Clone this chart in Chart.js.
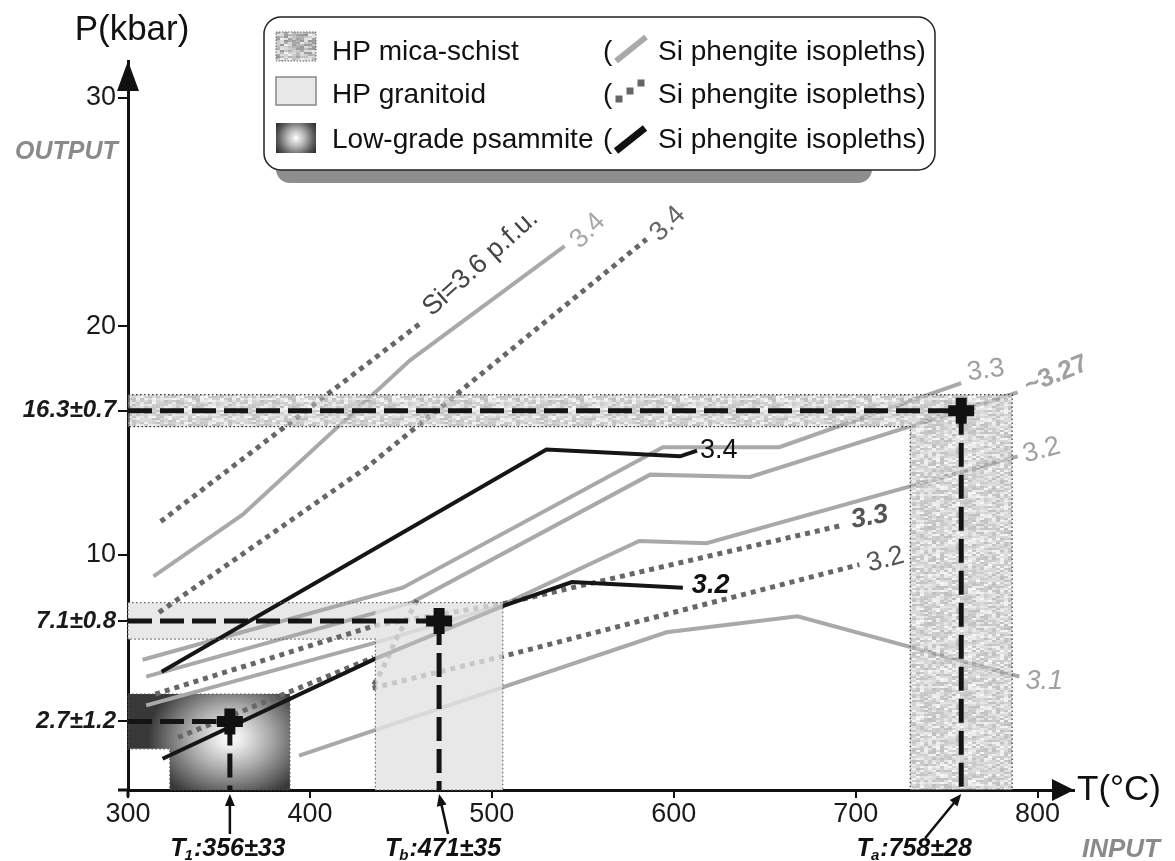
<!DOCTYPE html>
<html>
<head>
<meta charset="utf-8">
<script src="https://cdn.jsdelivr.net/npm/chart.js@4.4.0/dist/chart.umd.min.js"></script>
<style>
  html, body { margin: 0; padding: 0; background: #fff; }
  canvas { display: block; }
</style>
</head>
<body>
<canvas id="pt" width="1175" height="861"></canvas>
<script>
// axis ticks
const xTicks = [300, 400, 500, 600, 700, 800];
const yTicks = [2.7, 7.1, 10, 16.3, 20, 30];
const yTickLabels = ['2.7±1.2', '7.1±0.8', '10', '16.3±0.7', '20', '30'];

// P-T estimates of the three samples (psammite, granitoid, mica-schist)
const sampleKeys = ['1', 'b', 'a'];
const sampleT = [356, 471, 758];
const sampleTErr = [33, 35, 28];
const sampleP = [2.7, 7.1, 16.3];
const samplePErr = [1.2, 0.8, 0.7];

// Si phengite isopleths - HP mica-schist (grey solid)
const mica34T = [314, 363, 455, 540];
const mica34P = [9.05, 11.75, 18.5, 23.5];
const mica33T = [308, 451, 594, 658, 758];
const mica33P = [5.4, 8.55, 14.7, 14.7, 17.5];
const mica327T = [310, 456, 587, 642, 789];
const mica327P = [4.66, 7.9, 13.5, 13.4, 17.1];
const mica32T = [310, 436, 506, 581, 618, 789];
const mica32P = [3.4, 6.15, 7.8, 10.6, 10.5, 14.3];
const mica31T = [394, 596, 668, 790];
const mica31P = [1.2, 6.6, 7.3, 4.66];

// Si phengite isopleths - HP granitoid (dotted)
const gran36T = [318, 462];
const gran36P = [11.45, 20.2];
const gran34T = [317, 431, 585];
const gran34P = [7.47, 13.8, 23.8];
const gran33T = [315, 436, 506, 692];
const gran33P = [3.9, 6.9, 7.85, 11.27];
const gran32T = [459, 448, 440, 434, 506, 702];
const gran32P = [8.0, 6.4, 5.0, 4.15, 5.55, 9.56];
const gran32bT = [327.5, 435];
const gran32bP = [2.0, 5.5];

// Si phengite isopleths - low-grade psammite (black)
const psam34T = [318.5, 530, 603.5, 612.8];
const psam34P = [4.87, 14.6, 14.3, 14.55];
const psam32T = [319, 436, 506, 544, 605];
const psam32P = [1.07, 5.45, 7.75, 8.8, 8.55];

const legendNames = ['HP mica-schist', 'HP granitoid', 'Low-grade psammite'];
const legendIso = 'Si phengite isopleths)';

const X_MIN = 300, X_MAX = 820, Y_MIN = -0.3, Y_MAX = 31.6;
const FONT = '"Liberation Sans", Arial, Helvetica, sans-serif';

const isoStyles = {
  mica: { borderColor: '#a9a9a9', borderWidth: 4, borderDash: [], order: 5 },
  gran: { borderColor: '#676767', borderWidth: 5, borderDash: [5, 5], order: 4 },
  psam: { borderColor: '#161616', borderWidth: 4, borderDash: [], order: 3 },
};

function iso(T, P, kind, tag) {
  return Object.assign({
    role: 'iso',
    tag: tag,
    data: T.map((t, i) => ({ x: t, y: P[i] })),
    showLine: true,
    pointRadius: 0,
    fill: false,
    tension: 0,
    borderCapStyle: 'butt',
    borderJoinStyle: 'miter',
  }, isoStyles[kind]);
}

function fnt(size, weight, style) {
  return `${style || 'normal'} ${weight || 'normal'} ${size}px ${FONT}`;
}

const datasets = [
  iso(psam34T, psam34P, 'psam', { text: '3.4', color: '#111', font: fnt(27), dx: 3, dy: 0, rot: 0 }),
  iso(psam32T, psam32P, 'psam', { text: '3.2', color: '#111', font: fnt(27, 'bold', 'italic'), dx: 9, dy: -2, rot: 0 }),
  iso(gran36T, gran36P, 'gran', { text: 'Si=3.6 p.f.u.', color: '#444', font: fnt(27), dx: 4, dy: -10, rot: -42 }),
  iso(gran34T, gran34P, 'gran', { text: '3.4', color: '#666', font: fnt(27), dx: 8, dy: -2, rot: -45 }),
  iso(gran33T, gran33P, 'gran', { text: '3.3', color: '#555', font: fnt(27, 'bold', 'italic'), dx: 10, dy: -5, rot: -10 }),
  iso(gran32T, gran32P, 'gran', { text: '3.2', color: '#555', font: fnt(27), dx: 8, dy: 0, rot: -15 }),
  iso(gran32bT, gran32bP, 'gran', null),
  iso(mica34T, mica34P, 'mica', { text: '3.4', color: '#a8a8a8', font: fnt(27), dx: 10, dy: -2, rot: -45 }),
  iso(mica33T, mica33P, 'mica', { text: '3.3', color: '#a0a0a0', font: fnt(27), dx: 6, dy: -10, rot: -8 }),
  iso(mica327T, mica327P, 'mica', { text: '~3.27', color: '#a0a0a0', font: fnt(26, 'bold'), dx: 8, dy: -5, rot: -22 }),
  iso(mica32T, mica32P, 'mica', { text: '3.2', color: '#a0a0a0', font: fnt(27), dx: 6, dy: -1, rot: -15 }),
  iso(mica31T, mica31P, 'mica', { text: '3.1', color: '#a0a0a0', font: fnt(27, 'normal', 'italic'), dx: 6, dy: 5, rot: 0 }),
];

// dashed guides from the axes to each estimate
sampleT.forEach((t, k) => {
  const guide = { role: 'guide', showLine: true, pointRadius: 0, fill: false, borderColor: '#141414', borderWidth: 5, borderDash: [24, 8], borderCapStyle: 'butt', order: 1 };
  datasets.push(Object.assign({}, guide, { data: [{ x: X_MIN, y: sampleP[k] }, { x: t, y: sampleP[k] }] }));
  datasets.push(Object.assign({}, guide, { data: [{ x: t, y: sampleP[k] }, { x: t, y: Y_MIN }] }));
});
datasets.push({
  role: 'cross',
  data: sampleT.map((t, k) => ({ x: t, y: sampleP[k] })),
  pointStyle: 'cross',
  pointRadius: 13,
  pointBorderWidth: 11,
  pointBorderColor: '#111',
  showLine: false,
  order: 0,
});

let micaPat = null;
function micaPattern(ctx) {
  if (micaPat) return micaPat;
  const c = document.createElement('canvas');
  c.width = 96; c.height = 96;
  const g = c.getContext('2d');
  for (let j = 0; j < 48; j++) {
    for (let i = 0; i < 24; i++) {
      const h = Math.abs(Math.sin(i * 12.9898 + j * 78.233) * 43758.5453) % 1;
      const v = Math.round(150 + h * 92);
      g.fillStyle = `rgb(${v},${v},${v})`;
      g.fillRect(i * 4, j * 2, 4, 2);
    }
  }
  micaPat = ctx.createPattern(c, 'repeat');
  return micaPat;
}

function box(chart, k) {
  const x = chart.scales.x, y = chart.scales.y;
  return {
    l: x.getPixelForValue(X_MIN),
    tl: x.getPixelForValue(sampleT[k] - sampleTErr[k]),
    r: x.getPixelForValue(sampleT[k] + sampleTErr[k]),
    top: y.getPixelForValue(sampleP[k] + samplePErr[k]),
    mid: y.getPixelForValue(sampleP[k] - samplePErr[k]),
    bottom: y.getPixelForValue(Y_MIN),
  };
}

function lPath(ctx, b) {
  ctx.beginPath();
  ctx.moveTo(b.l, b.top);
  ctx.lineTo(b.r, b.top);
  ctx.lineTo(b.r, b.bottom);
  ctx.lineTo(b.tl, b.bottom);
  ctx.lineTo(b.tl, b.mid);
  ctx.lineTo(b.l, b.mid);
  ctx.closePath();
}

function dottedBorder(ctx, b, color) {
  ctx.save();
  lPath(ctx, b);
  ctx.strokeStyle = color;
  ctx.lineWidth = 1.2;
  ctx.setLineDash([1.5, 2.5]);
  ctx.stroke();
  ctx.restore();
}

function drawPsammite(chart) {
  const ctx = chart.ctx;
  const b = box(chart, 0);
  const cx = chart.scales.x.getPixelForValue(sampleT[0]);
  const cy = chart.scales.y.getPixelForValue(sampleP[0] - 0.6 * samplePErr[0]);
  ctx.save();
  lPath(ctx, b);
  ctx.clip();
  ctx.translate(cx, cy);
  ctx.scale(1, 0.8);
  const g = ctx.createRadialGradient(0, 0, 0, 0, 0, 82);
  g.addColorStop(0, '#ffffff');
  g.addColorStop(0.15, '#ececec');
  g.addColorStop(0.5, '#a8a8a8');
  g.addColorStop(0.8, '#666666');
  g.addColorStop(1, '#383838');
  ctx.fillStyle = g;
  ctx.fillRect(-300, -300, 600, 600);
  ctx.restore();
  dottedBorder(ctx, b, '#555');
}

function drawGranitoid(chart, overlay) {
  const ctx = chart.ctx;
  const b = box(chart, 1);
  ctx.save();
  if (!overlay) {
    lPath(ctx, b);
    ctx.fillStyle = '#e8e8e8';
    ctx.fill();
  } else {
    ctx.fillStyle = 'rgba(232,232,232,0.75)';
    ctx.fillRect(b.tl, b.top, b.r - b.tl, b.bottom - b.top);
    dottedBorder(ctx, b, '#666');
  }
  ctx.restore();
}

function drawMica(chart) {
  const ctx = chart.ctx;
  const b = box(chart, 2);
  ctx.save();
  lPath(ctx, b);
  ctx.globalAlpha = 0.62;
  ctx.fillStyle = micaPattern(ctx);
  ctx.fill();
  ctx.restore();
  dottedBorder(ctx, b, '#333');
}

function roundRect(ctx, x, y, w, h, r) {
  ctx.beginPath();
  ctx.moveTo(x + r, y);
  ctx.arcTo(x + w, y, x + w, y + h, r);
  ctx.arcTo(x + w, y + h, x, y + h, r);
  ctx.arcTo(x, y + h, x, y, r);
  ctx.arcTo(x, y, x + w, y, r);
  ctx.closePath();
}

function arrow(ctx, x0, y0, x1, y1, head, half) {
  const a = Math.atan2(y1 - y0, x1 - x0);
  ctx.beginPath();
  ctx.moveTo(x0, y0);
  ctx.lineTo(x1 - Math.cos(a) * head * 0.8, y1 - Math.sin(a) * head * 0.8);
  ctx.stroke();
  ctx.beginPath();
  ctx.moveTo(x1, y1);
  ctx.lineTo(x1 - Math.cos(a) * head - Math.sin(a) * half, y1 - Math.sin(a) * head + Math.cos(a) * half);
  ctx.lineTo(x1 - Math.cos(a) * head + Math.sin(a) * half, y1 - Math.sin(a) * head - Math.cos(a) * half);
  ctx.closePath();
  ctx.fill();
}

const tLabelShift = [-2, 4, -47];
const tArrowTail = [[0, 40], [9, 40], [-36, 44]];

function drawLegend(chart) {
  const ctx = chart.ctx;
  ctx.save();
  ctx.fillStyle = '#8e8e8e';
  roundRect(ctx, 276, 140, 596, 43, 14);
  ctx.fill();
  ctx.fillStyle = '#fff';
  ctx.strokeStyle = '#222';
  ctx.lineWidth = 1.5;
  roundRect(ctx, 264, 17, 671, 153, 17);
  ctx.fill();
  ctx.stroke();

  const sw = [[276, 32, 40, 29], [276, 77, 40, 28], [276, 123, 40, 30]];
  // mica-schist swatch
  ctx.fillStyle = micaPattern(ctx);
  ctx.fillRect(...sw[0]);
  ctx.strokeStyle = '#666';
  ctx.lineWidth = 1;
  ctx.setLineDash([1.5, 1.5]);
  ctx.strokeRect(...sw[0]);
  ctx.setLineDash([]);
  // granitoid swatch
  ctx.fillStyle = '#e8e8e8';
  ctx.fillRect(...sw[1]);
  ctx.strokeStyle = '#888';
  ctx.lineWidth = 1.5;
  ctx.strokeRect(...sw[1]);
  // psammite swatch
  const [sx, sy, sww, sh] = sw[2];
  const g = ctx.createRadialGradient(sx + sww / 2, sy + sh / 2, 0, sx + sww / 2, sy + sh / 2, 24);
  g.addColorStop(0, '#ffffff');
  g.addColorStop(0.35, '#b8b8b8');
  g.addColorStop(0.75, '#5a5a5a');
  g.addColorStop(1, '#2c2c2c');
  ctx.fillStyle = g;
  ctx.fillRect(sx, sy, sww, sh);

  const base = [60, 103, 148];
  ctx.font = fnt(28);
  ctx.fillStyle = '#111';
  ctx.textAlign = 'left';
  ctx.textBaseline = 'alphabetic';
  legendNames.forEach((n, i) => {
    ctx.fillText(n, 332, base[i]);
    ctx.fillText('(', 603, base[i]);
    ctx.fillText(legendIso, 658, base[i]);
  });

  // isopleth symbols
  ctx.lineCap = 'butt';
  ctx.strokeStyle = '#a9a9a9';
  ctx.lineWidth = 6;
  ctx.beginPath(); ctx.moveTo(616, 61); ctx.lineTo(646, 37); ctx.stroke();
  ctx.fillStyle = '#666';
  [[619, 99], [630, 91], [641, 83]].forEach(([x, y]) => ctx.fillRect(x - 3.5, y - 3.5, 7, 7));
  ctx.strokeStyle = '#111';
  ctx.lineWidth = 7;
  ctx.beginPath(); ctx.moveTo(616, 151); ctx.lineTo(645, 128); ctx.stroke();
  ctx.restore();
}

const decor = {
  id: 'decor',
  beforeDraw(chart) { chart.$overlaysDone = false; },
  beforeDatasetsDraw(chart) {
    drawGranitoid(chart, false);
    drawPsammite(chart);
  },
  beforeDatasetDraw(chart, args) {
    const ds = chart.data.datasets[args.index];
    if (ds.role !== 'iso' && !chart.$overlaysDone) {
      chart.$overlaysDone = true;
      drawGranitoid(chart, true);
      drawMica(chart);
    }
  },
  afterDatasetsDraw(chart) {
    const ctx = chart.ctx;
    const xs = chart.scales.x, ys = chart.scales.y;
    const area = chart.chartArea;

    // isopleth labels at line ends
    chart.data.datasets.forEach((ds) => {
      if (!ds.tag) return;
      const p = ds.data[ds.data.length - 1];
      const x = xs.getPixelForValue(p.x) + ds.tag.dx;
      const y = ys.getPixelForValue(p.y) + ds.tag.dy;
      ctx.save();
      ctx.translate(x, y);
      ctx.rotate(ds.tag.rot * Math.PI / 180);
      ctx.font = ds.tag.font;
      ctx.fillStyle = ds.tag.color;
      ctx.textAlign = 'left';
      ctx.textBaseline = 'middle';
      ctx.fillText(ds.tag.text, 0, 0);
      ctx.restore();
    });

    ctx.save();
    ctx.fillStyle = '#111';
    ctx.strokeStyle = '#111';
    // axis stubs and arrow heads
    ctx.lineWidth = 3;
    ctx.beginPath();
    ctx.moveTo(area.left - 10, area.bottom); ctx.lineTo(area.left, area.bottom);
    ctx.moveTo(area.left, area.bottom); ctx.lineTo(area.left, area.bottom + 7);
    ctx.stroke();
    ctx.beginPath();
    ctx.moveTo(area.left, area.top);
    ctx.lineTo(area.left - 11, area.top + 30);
    ctx.lineTo(area.left + 11, area.top + 30);
    ctx.closePath();
    ctx.fill();
    ctx.beginPath();
    ctx.moveTo(area.right, area.bottom);
    ctx.lineTo(area.right - 22, area.bottom - 11);
    ctx.lineTo(area.right - 22, area.bottom + 11);
    ctx.closePath();
    ctx.fill();

    // axis titles
    ctx.font = fnt(35);
    ctx.textBaseline = 'middle';
    ctx.textAlign = 'center';
    ctx.fillText('P(kbar)', area.left + 4, 30);
    ctx.textAlign = 'left';
    ctx.fillText('T(°C)', area.right + 3, area.bottom);
    ctx.fillStyle = '#8a8a8a';
    ctx.font = fnt(25, 'bold', 'italic');
    ctx.fillText('OUTPUT', 15, 152);
    ctx.font = fnt(26, 'bold', 'italic');
    ctx.textBaseline = 'alphabetic';
    ctx.fillText('INPUT', area.right + 8, 857);

    // temperature call-outs under the axis
    ctx.fillStyle = '#111';
    ctx.lineWidth = 2.5;
    sampleT.forEach((t, k) => {
      const x = xs.getPixelForValue(t);
      const y = area.bottom + 4;
      arrow(ctx, x + tArrowTail[k][0], y + tArrowTail[k][1], x, y, 12, 5);
      const main = fnt(25, 'bold', 'italic');
      const sub = fnt(15, 'bold', 'italic');
      const rest = ':' + t + '±' + sampleTErr[k];
      ctx.font = main;
      const w1 = ctx.measureText('T').width;
      const w3 = ctx.measureText(rest).width;
      ctx.font = sub;
      const w2 = ctx.measureText(sampleKeys[k]).width;
      const lx = x + tLabelShift[k] - (w1 + w2 + w3) / 2;
      ctx.textAlign = 'left';
      ctx.font = main;
      ctx.fillText('T', lx, 856);
      ctx.font = sub;
      ctx.fillText(sampleKeys[k], lx + w1 - 1, 860);
      ctx.font = main;
      ctx.fillText(rest, lx + w1 + w2, 856);
    });
    ctx.restore();

    drawLegend(chart);
  },
};

new Chart(document.getElementById('pt'), {
  type: 'scatter',
  data: { datasets },
  options: {
    responsive: false,
    animation: false,
    devicePixelRatio: 1,
    layout: { padding: { top: 61, right: 101, left: 0, bottom: 0 } },
    plugins: { legend: { display: false }, tooltip: { enabled: false } },
    scales: {
      x: {
        type: 'linear',
        min: X_MIN,
        max: X_MAX,
        afterFit: (axis) => { axis.height = 71; },
        afterBuildTicks: (axis) => { axis.ticks = xTicks.map((v) => ({ value: v })); },
        border: { display: true, color: '#111', width: 3 },
        grid: { drawOnChartArea: false, drawTicks: true, tickLength: 8, color: '#111', lineWidth: 2 },
        ticks: {
          autoSkip: false,
          maxRotation: 0,
          padding: 0,
          color: '#1a1a1a',
          font: { family: FONT, size: 27 },
          callback: (v) => String(v),
        },
      },
      y: {
        type: 'linear',
        min: Y_MIN,
        max: Y_MAX,
        afterFit: (axis) => { axis.width = 128; },
        afterBuildTicks: (axis) => { axis.ticks = yTicks.map((v) => ({ value: v })); },
        border: { display: true, color: '#111', width: 3 },
        grid: { drawOnChartArea: false, drawTicks: true, tickLength: 10, color: '#111', lineWidth: 2 },
        ticks: {
          autoSkip: false,
          padding: 2,
          color: '#1a1a1a',
          font: (c) => (c.tick && !Number.isInteger(c.tick.value))
            ? { family: FONT, size: 24, weight: 'bold', style: 'italic' }
            : { family: FONT, size: 27 },
          callback: (v) => {
            const i = yTicks.indexOf(v);
            return i >= 0 ? yTickLabels[i] : '';
          },
        },
      },
    },
  },
  plugins: [decor],
});
</script>
</body>
</html>
